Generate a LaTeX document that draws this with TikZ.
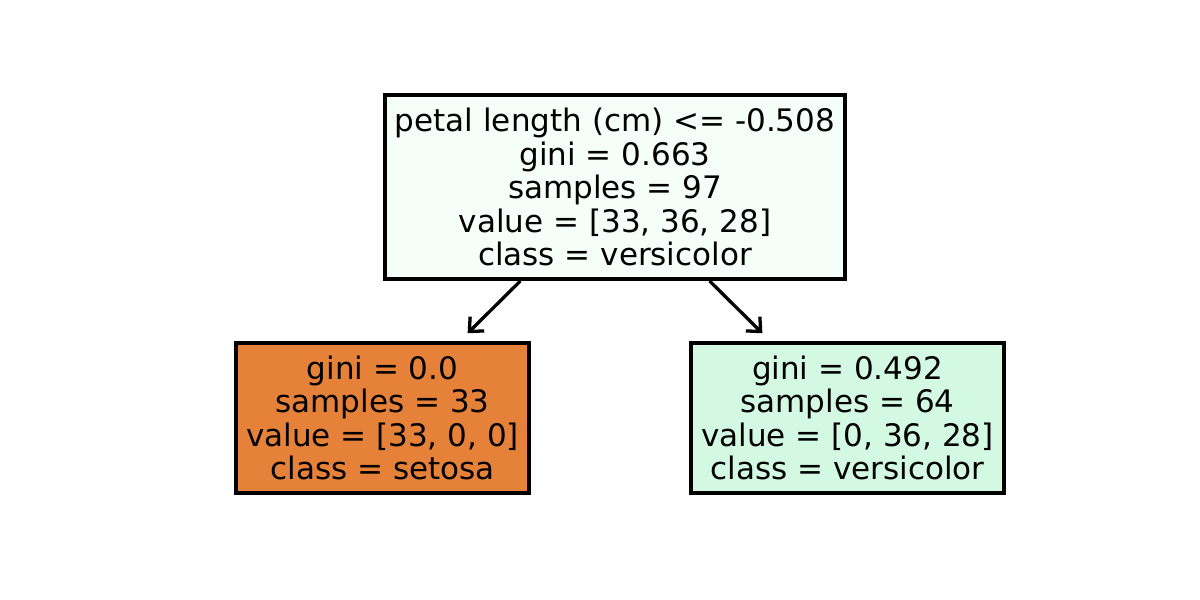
\documentclass[tikz,border=0pt]{standalone}
\usepackage{fontspec}
\setmainfont{DejaVu Sans}
\usetikzlibrary{arrows.meta}

\definecolor{rootfill}{RGB}{246,254,249}
\definecolor{setosafill}{RGB}{229,129,57}
\definecolor{versifill}{RGB}{211,249,227}

\begin{document}
\begin{tikzpicture}[x = 1pt, y = 1pt, font=\fontsize{31}{33.5}\selectfont]
\tikzstyle{splitStyle}=[shape = rectangle, draw, line width = 4pt, align = center, inner sep = 0pt]
\tikzstyle{edgeStyle}=[line width = 3.3pt, -{Straight Barb[length=11pt, width=20pt, line width=3.3pt]}, shorten > = 11pt]
\useasboundingbox (0,0) rectangle (1200,600);
\node[splitStyle, fill = rootfill, minimum width = 460pt, minimum height = 184pt] (root) at (615,413) {petal length (cm) <= -0.508\\gini = 0.663\\samples = 97\\value = [33, 36, 28]\\class = versicolor};
\node[splitStyle, fill = setosafill, minimum width = 293pt, minimum height = 150pt] (setosa) at (382.5,182) {gini = 0.0\\samples = 33\\value = [33, 0, 0]\\class = setosa};
\node[splitStyle, fill = versifill, minimum width = 313pt, minimum height = 150pt] (versicolor) at (847.5,182) {gini = 0.492\\samples = 64\\value = [0, 36, 28]\\class = versicolor};
\draw[edgeStyle] (root) -- (setosa);
\draw[edgeStyle] (root) -- (versicolor);
\end{tikzpicture}
\end{document}
